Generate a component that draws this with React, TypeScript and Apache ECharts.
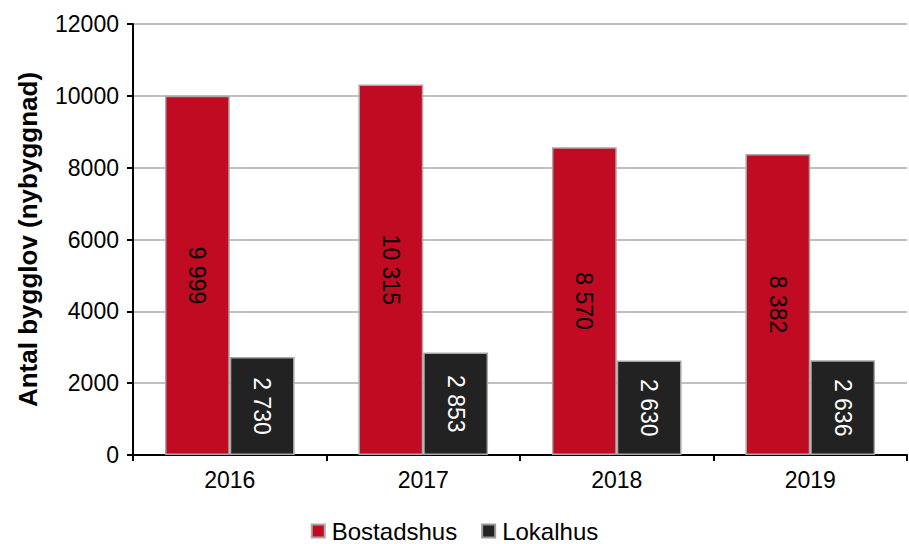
import React, { useEffect, useRef } from "react";
import * as echarts from "echarts";

const categories = ["2016", "2017", "2018", "2019"];
const bostadshus = [9999, 10315, 8570, 8382];
const lokalhus = [2730, 2853, 2630, 2636];
const seriesNames = ["Bostadshus", "Lokalhus"];
const yAxisName = "Antal bygglov (nybyggnad)";

const fmt = (v: number) => String(v).replace(/\B(?=(\d{3})+(?!\d))/g, " ");

export default function App() {
  const ref = useRef<HTMLDivElement>(null);
  useEffect(() => {
    const chart = echarts.init(ref.current!, null, { renderer: "svg" });
    const font = "Liberation Sans, Arial, sans-serif";
    chart.setOption({
      animation: false,
      textStyle: { fontFamily: font },
      grid: { left: 133, right: 2, top: 24, bottom: 89, containLabel: false },
      legend: {
        bottom: -4,
        left: "center",
        itemWidth: 13,
        itemHeight: 13,
        itemGap: 24,
        textStyle: { fontSize: 24, color: "#000", fontFamily: font, padding: [0, 0, 0, 2] },
        data: [
          { name: seriesNames[0], icon: "rect" },
          { name: seriesNames[1], icon: "rect", itemStyle: { borderColor: "#999", borderWidth: 2 } },
        ],
      },
      xAxis: {
        type: "category",
        data: categories,
        axisLine: { lineStyle: { color: "#000", width: 2 } },
        axisTick: { show: true, alignWithLabel: false, length: 6, lineStyle: { color: "#000", width: 2 } },
        axisLabel: { fontSize: 23, color: "#000", margin: 13, fontFamily: font },
      },
      yAxis: {
        type: "value",
        min: 0,
        max: 12000,
        interval: 2000,
        name: yAxisName,
        nameLocation: "middle",
        nameGap: 92,
        nameTextStyle: { fontSize: 26, fontWeight: "bold", color: "#000", fontFamily: font },
        axisLine: { show: true, lineStyle: { color: "#000", width: 2 } },
        axisTick: { show: true, length: 6, lineStyle: { color: "#000", width: 2 } },
        axisLabel: { fontSize: 23, color: "#000", margin: 14, fontFamily: font, formatter: (v: number) => String(v) },
        splitLine: { show: true, lineStyle: { color: "#c0c0c0", width: 2 } },
      },
      series: [
        {
          name: seriesNames[0],
          type: "bar",
          data: bostadshus,
          barGap: "0%",
          barCategoryGap: "33%",
          itemStyle: { color: "#c00b23", borderColor: "#a8a8a8", borderWidth: 1.5 },
          label: {
            show: true,
            position: "inside",
            rotate: -90,
            fontSize: 23,
            color: "#000",
            fontFamily: font,
            formatter: (p: any) => fmt(p.value),
          },
        },
        {
          name: seriesNames[1],
          type: "bar",
          data: lokalhus,
          itemStyle: { color: "#222222", borderColor: "#a8a8a8", borderWidth: 1.5 },
          label: {
            show: true,
            position: "inside",
            rotate: -90,
            fontSize: 23,
            color: "#fff",
            fontFamily: font,
            formatter: (p: any) => fmt(p.value),
          },
        },
      ],
    });
    return () => chart.dispose();
  }, []);
  return <div ref={ref} style={{ width: 909, height: 544, position: "absolute", left: 0, top: 0 }} />;
}
